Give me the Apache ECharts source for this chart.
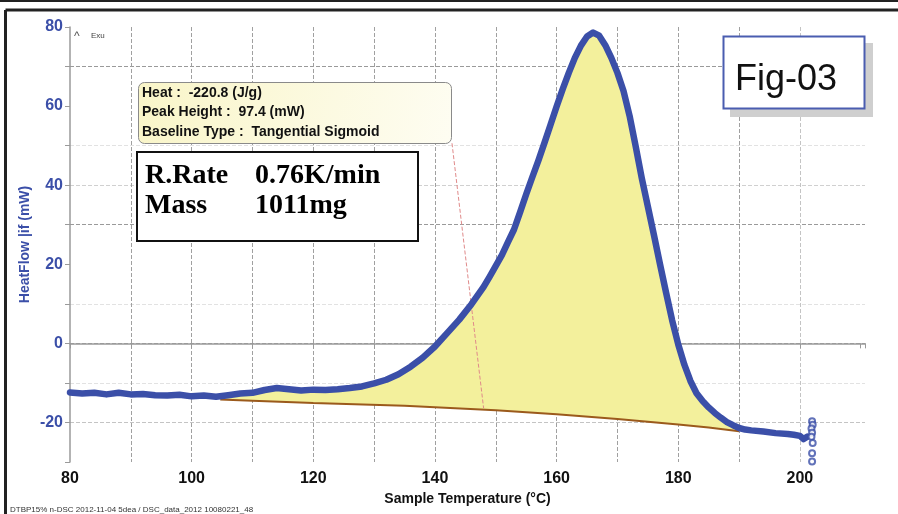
<!DOCTYPE html>
<html><head><meta charset="utf-8">
<script src="https://cdn.jsdelivr.net/npm/echarts@6/dist/echarts.min.js"></script>
<style>html,body{margin:0;padding:0;background:#fff}#c{width:898px;height:514px}</style>
</head><body><div id="c"></div>
<script>
// Sample temperature (°C) vs heat flow (mW)
const heatFlow = [
  [80,-12.4],[82,-12.7],[84,-12.5],[86,-12.9],[88,-12.5],[90,-12.9],[92,-12.8],[94,-13.1],
  [96,-13.2],[98,-13.0],[100,-13.4],[102,-13.2],[104,-13.5],[106,-13.1],[108,-12.7],[110,-12.5],
  [112,-11.8],[114,-11.3],[116,-11.6],[118,-11.9],[120,-11.7],[122,-11.8],[124,-11.6],[126,-11.3],
  [128,-10.9],[130,-10.1],[132,-9.2],[134,-7.8],[136,-5.9],[138,-3.6],[140,-0.8],[142,2.6],
  [144,6.0],[146,9.9],[148,14.3],[149,16.9],[150,19.6],[151,22.3],[152,25.6],[153,28.8],
  [154,33.2],[155,37.7],[156,42.0],[157,46.2],[158,50.7],[159,55.3],[160,59.9],[161,64.3],
  [162,68.4],[163,72.2],[164,75.3],[165,77.6],[166,78.6],[167,77.8],[168,75.4],[169,72.2],
  [170,68.4],[171,63.8],[172,57.5],[173,49.8],[174,41.8],[175,34.6],[176,27.4],[177,20.0],
  [178,12.8],[179,5.8],[180,-0.3],[181,-5.4],[182,-9.5],[183,-12.6],[184,-14.6],[185,-16.2],
  [186,-17.6],[187,-18.8],[188,-19.9],[189,-20.7],[190,-21.4],[191,-21.8],[192,-22.0],[194,-22.3],
  [196,-22.7],[198,-22.9],[199,-23.1],[200,-23.4],[200.6,-24.2],[201.2,-23.6]
];
// Tangential sigmoid baseline
const baseline = [
  [104.7,-14.2],[110,-14.5],[120,-15.1],[135,-15.8],[150,-16.9],[160,-17.9],
  [170,-19.1],[180,-20.5],[185,-21.3],[190,-22.2]
];
// Scatter of final points
const endPoints = [[202,-19.7],[202.1,-20.6],[201.9,-21.5],[202,-22.6],[201.9,-23.6],[202.1,-25.2],[202,-27.8],[202,-29.9]];
// Leader line from the annotation to the baseline
const leaderLine = [[142.8,50.6],[148.0,-16.4]];

const infoLines = ['Heat :  -220.8 (J/g)', 'Peak Height :  97.4 (mW)', 'Baseline Type :  Tangential Sigmoid'];
const rateLabel = ['R.Rate', '0.76K/min'];
const massLabel = ['Mass', '1011mg'];
const figLabel = 'Fig-03';
const fileLabel = 'DTBP15% n-DSC 2012-11-04 5dea / DSC_data_2012 10080221_48';

const fillStart = baseline[0][0], fillEnd = baseline[baseline.length - 1][0];
const fillPoly = heatFlow.filter(p => p[0] >= fillStart && p[0] <= fillEnd).concat(baseline.slice().reverse());

const blue = '#3b4fa8';
const T = 'rgba(0,0,0,0)';
const chart = echarts.init(document.getElementById('c'));
chart.setOption({
  animation: false,
  backgroundColor: '#fff',
  grid: {left: 70, right: 33, top: 27, bottom: 52},
  xAxis: {
    type: 'value', min: 80, max: 210.7, interval: 10,
    name: 'Sample Temperature (°C)', nameLocation: 'middle', nameGap: 28,
    nameTextStyle: {fontFamily: 'Liberation Sans', fontWeight: 'bold', fontSize: 14, color: '#111'},
    axisLine: {show: true, lineStyle: {color: '#9a9a9a', width: 1.5}},
    axisTick: {show: true, length: 5, lineStyle: {color: '#9a9a9a'}},
    axisLabel: {fontFamily: 'Liberation Sans', fontWeight: 'bold', fontSize: 16, color: '#111', margin: 9,
      formatter: v => (v % 20 === 0 ? String(v) : '')},
    splitLine: {show: true, showMinLine: false, showMaxLine: false, lineStyle: {type: [4, 2], width: 1,
      color: ['#a0a0a0', '#a0a0a0', '#a0a0a0', '#a0a0a0', '#a0a0a0', '#a0a0a0', '#a0a0a0',
              '#a0a0a0', '#a0a0a0', '#a0a0a0', '#a0a0a0', '#c4c4c4', T, T, T]}}
  },
  yAxis: {
    type: 'value', min: -30, max: 80, interval: 10,
    name: 'HeatFlow |if (mW)', nameLocation: 'middle', nameGap: 38, nameMoveOverlap: false,
    nameTextStyle: {fontFamily: 'Liberation Sans', fontWeight: 'bold', fontSize: 14, color: blue},
    axisLine: {show: true, lineStyle: {color: '#9a9a9a', width: 1.5}},
    axisTick: {show: true, length: 5, lineStyle: {color: '#9a9a9a'}},
    axisLabel: {fontFamily: 'Liberation Sans', fontWeight: 'bold', fontSize: 16, color: blue, margin: 7,
      formatter: v => (v % 20 === 0 ? String(v) : '')},
    splitLine: {show: true, lineStyle: {type: [4, 2], width: 1,
      color: [T, '#c4c4c4', '#e2e2e2', '#9a9a9a', '#e2e2e2', T,
              '#9a9a9a', '#d0d0d0', '#e2e2e2', T, '#9a9a9a', T]}}
  },
  series: [
    {
      type: 'custom', silent: true, z: 1,
      data: [[fillStart, 0]], encode: {x: 0, y: 1},
      renderItem: (params, api) => ({
        type: 'polygon',
        shape: {points: fillPoly.map(p => api.coord(p))},
        style: {fill: '#f3f09c', stroke: null}
      })
    },
    {
      type: 'line', data: baseline, showSymbol: false, silent: true, z: 2,
      lineStyle: {color: '#9b5a1c', width: 2}
    },
    {
      type: 'line', data: leaderLine, showSymbol: false, silent: true, z: 3,
      lineStyle: {color: '#e08a8a', width: 1, type: [4, 2]}
    },
    {
      type: 'line', data: heatFlow, showSymbol: false, silent: true, z: 4,
      lineStyle: {color: blue, width: 6.5, join: 'round', cap: 'round'}
    },
    {
      type: 'scatter', data: endPoints, symbol: 'emptyCircle', symbolSize: 6, silent: true, z: 4,
      itemStyle: {color: blue, borderColor: blue, borderWidth: 1.2}
    }
  ],
  graphic: [
    {type: 'line', shape: {x1: 0, y1: 1, x2: 898, y2: 1}, style: {stroke: '#222', lineWidth: 2}, z: 50},
    {type: 'line', shape: {x1: 5.5, y1: 10, x2: 898, y2: 10}, style: {stroke: '#222', lineWidth: 3}, z: 50},
    {type: 'line', shape: {x1: 5.5, y1: 10, x2: 5.5, y2: 514}, style: {stroke: '#222', lineWidth: 3}, z: 50},
    {type: 'text', x: 74, y: 37, style: {text: '^', font: '12px "Liberation Sans"', fill: '#555', verticalAlign: 'middle'}, z: 50},
    {type: 'text', x: 91, y: 36, style: {text: 'Exu', font: '8px "Liberation Sans"', fill: '#444', verticalAlign: 'middle'}, z: 50},
    {type: 'rect', shape: {x: 138.5, y: 82.5, width: 313, height: 61, r: 6},
      style: {fill: new echarts.graphic.LinearGradient(0, 0, 1, 1, [{offset: 0, color: '#f9f5c8'}, {offset: 1, color: '#fefdf2'}]),
        stroke: '#8a8a8a', lineWidth: 1}, z: 50},
    {type: 'text', x: 142, y: 93, style: {text: infoLines[0], font: 'bold 14px "Liberation Sans"', fill: '#111', verticalAlign: 'middle'}, z: 51},
    {type: 'text', x: 142, y: 112.5, style: {text: infoLines[1], font: 'bold 14px "Liberation Sans"', fill: '#111', verticalAlign: 'middle'}, z: 51},
    {type: 'text', x: 142, y: 132, style: {text: infoLines[2], font: 'bold 14px "Liberation Sans"', fill: '#111', verticalAlign: 'middle'}, z: 51},
    {type: 'rect', shape: {x: 137, y: 152, width: 281, height: 89}, style: {fill: '#fff', stroke: '#111', lineWidth: 2}, z: 50},
    {type: 'text', x: 145, y: 176, style: {text: rateLabel[0], font: 'bold 28px "Liberation Serif"', fill: '#000', verticalAlign: 'middle'}, z: 51},
    {type: 'text', x: 255, y: 176, style: {text: rateLabel[1], font: 'bold 28px "Liberation Serif"', fill: '#000', verticalAlign: 'middle'}, z: 51},
    {type: 'text', x: 145, y: 206, style: {text: massLabel[0], font: 'bold 28px "Liberation Serif"', fill: '#000', verticalAlign: 'middle'}, z: 51},
    {type: 'text', x: 255, y: 206, style: {text: massLabel[1], font: 'bold 28px "Liberation Serif"', fill: '#000', verticalAlign: 'middle'}, z: 51},
    {type: 'rect', shape: {x: 730, y: 43, width: 143, height: 74}, style: {fill: '#cfcfcf'}, z: 50},
    {type: 'rect', shape: {x: 723.5, y: 36.5, width: 141, height: 72}, style: {fill: '#fff', stroke: '#4a5db0', lineWidth: 2}, z: 51},
    {type: 'text', x: 735, y: 80.5, style: {text: figLabel, font: '36px "Liberation Sans"', fill: '#111', verticalAlign: 'middle'}, z: 52},
    {type: 'text', x: 10, y: 510, style: {text: fileLabel, font: '8px "Liberation Sans"', fill: '#333', verticalAlign: 'middle'}, z: 50}
  ]
});
</script></body></html>
